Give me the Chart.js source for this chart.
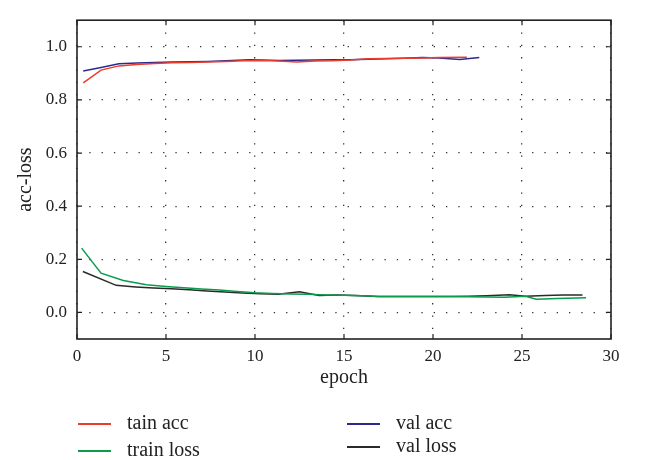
<!DOCTYPE html>
<html lang="en">
<head>
    <meta charset="UTF-8">
    <title>acc-loss</title>
    <script src="https://cdn.jsdelivr.net/npm/chart.js"></script>
    <style>
        body { margin: 0; background: #fff; }
        #wrap { position: relative; width: 648px; height: 460px; }
        .leg { position: absolute; font: 20px "Liberation Serif", serif; color: #222; white-space: nowrap; }
        .leg i { position: absolute; left: 0; top: 50%; width: 33px; height: 2px; margin-top: -1px; }
        .leg span { position: absolute; left: 49px; top: 50%; transform: translateY(-55%); }
    </style>
</head>
<body>
<div id="wrap">
    <canvas id="chart" width="648" height="460"></canvas>
</div>
<script>
    // values
    const trainAccEpoch = [0.35, 1.35, 2.35, 3.35, 4.35, 5.35, 6.35, 7.35, 8.35, 9.35, 10.35, 11.35, 12.35, 13.35, 14.35, 15.35, 16.35, 17.35, 18.35, 19.35, 20.35, 21.9];
    const trainAcc = [0.864, 0.912, 0.928, 0.933, 0.937, 0.940, 0.941, 0.943, 0.945, 0.947, 0.948, 0.946, 0.943, 0.946, 0.947, 0.950, 0.955, 0.956, 0.957, 0.958, 0.960, 0.961];

    const valAccEpoch = [0.35, 1.35, 2.35, 3.35, 4.35, 5.35, 6.35, 7.35, 8.35, 9.7, 10.35, 11.35, 12.35, 13.35, 14.35, 15.35, 16.35, 17.35, 18.35, 19.4, 20.35, 21.5, 22.6];
    const valAcc = [0.909, 0.922, 0.936, 0.939, 0.941, 0.943, 0.944, 0.945, 0.947, 0.951, 0.950, 0.948, 0.949, 0.950, 0.951, 0.951, 0.953, 0.955, 0.957, 0.960, 0.958, 0.952, 0.960];

    const trainLossEpoch = [0.26, 1.35, 2.6, 3.9, 5, 6, 7, 8, 9, 10, 11, 12, 13, 14, 15, 16, 17, 18, 19, 20, 21, 22, 23, 24, 25.2, 25.8, 27, 28.6];
    const trainLoss = [0.242, 0.148, 0.120, 0.104, 0.098, 0.093, 0.088, 0.084, 0.079, 0.074, 0.071, 0.069, 0.068, 0.066, 0.065, 0.063, 0.060, 0.060, 0.060, 0.060, 0.060, 0.059, 0.058, 0.057, 0.061, 0.050, 0.052, 0.055];

    const valLossEpoch = [0.33, 2.2, 3.3, 4.3, 5.3, 6.3, 7.3, 8.3, 9.3, 10.3, 11.3, 12.5, 13.6, 14.6, 15.6, 16.9, 18, 19, 20, 21, 22, 23, 24.3, 25.2, 26.3, 27.3, 28.4];
    const valLoss = [0.154, 0.102, 0.096, 0.092, 0.089, 0.085, 0.081, 0.077, 0.073, 0.070, 0.068, 0.078, 0.064, 0.066, 0.064, 0.060, 0.060, 0.060, 0.060, 0.060, 0.061, 0.063, 0.067, 0.061, 0.064, 0.066, 0.066];

    const xTicks = [0, 5, 10, 15, 20, 25, 30];
    const yTicks = [0.0, 0.2, 0.4, 0.6, 0.8, 1.0];

    const serif = '"Liberation Serif", "DejaVu Serif", serif';

    function pts(xs, ys) {
        return xs.map((x, i) => ({ x: x, y: ys[i] }));
    }

    const series = [
        { label: "tain acc", color: "#ee3b2b", data: pts(trainAccEpoch, trainAcc) },
        { label: "val acc", color: "#2d2a8f", data: pts(valAccEpoch, valAcc) },
        { label: "train loss", color: "#0a9b4c", data: pts(trainLossEpoch, trainLoss) },
        { label: "val loss", color: "#2a2a2a", data: pts(valLossEpoch, valLoss) }
    ];

    // frame + inward ticks
    const frame = {
        id: "frame",
        afterDraw(chart) {
            const { ctx, chartArea: a, scales } = chart;
            ctx.save();
            ctx.strokeStyle = "#222";
            ctx.lineWidth = 1.6;
            ctx.strokeRect(a.left, a.top, a.right - a.left, a.bottom - a.top);
            ctx.lineWidth = 1.2;
            ctx.beginPath();
            xTicks.forEach(v => {
                const px = scales.x.getPixelForValue(v);
                ctx.moveTo(px, a.bottom); ctx.lineTo(px, a.bottom - 5);
                ctx.moveTo(px, a.top); ctx.lineTo(px, a.top + 5);
            });
            yTicks.forEach(v => {
                const py = scales.y.getPixelForValue(v);
                ctx.moveTo(a.left, py); ctx.lineTo(a.left + 5, py);
                ctx.moveTo(a.right, py); ctx.lineTo(a.right - 5, py);
            });
            ctx.stroke();
            ctx.restore();
        }
    };

    new Chart(document.getElementById("chart"), {
        type: "line",
        data: {
            datasets: series.map(s => ({
                label: s.label,
                data: s.data,
                borderColor: s.color,
                borderWidth: 1.5,
                pointRadius: 0,
                fill: false,
                tension: 0
            }))
        },
        options: {
            responsive: false,
            animation: false,
            layout: { padding: { left: 0, top: 7, right: 37, bottom: 66 } },
            plugins: { legend: { display: false }, tooltip: { enabled: false } },
            scales: {
                x: {
                    type: "linear",
                    min: 0,
                    max: 30,
                    afterBuildTicks: s => { s.ticks = xTicks.map(v => ({ value: v })); },
                    afterFit: s => { s.height = 55; },
                    ticks: { color: "#222", padding: 7, font: { family: serif, size: 17 } },
                    grid: { color: "#333", lineWidth: 1.3, drawTicks: false },
                    border: { display: false, dash: [1.3, 11] },
                    title: { display: true, text: "epoch", color: "#222", padding: { top: 2 }, font: { family: serif, size: 20 } }
                },
                y: {
                    min: -0.1,
                    max: 1.1,
                    afterBuildTicks: s => { s.ticks = yTicks.map(v => ({ value: v })); },
                    afterFit: s => { s.width = 77; },
                    ticks: { color: "#222", padding: 10, font: { family: serif, size: 17 }, callback: v => v.toFixed(1) },
                    grid: { color: "#333", lineWidth: 1.3, drawTicks: false },
                    border: { display: false, dash: [1.3, 11] },
                    title: { display: true, text: "acc-loss", color: "#222", padding: { top: 14, bottom: 0 }, font: { family: serif, size: 20 } }
                }
            }
        },
        plugins: [frame]
    });

    // legend in two columns below the plot
    const legendPos = [
        { left: 78, top: 424 }, { left: 347, top: 424 },
        { left: 78, top: 451 }, { left: 347, top: 447 }
    ];
    const wrap = document.getElementById("wrap");
    series.forEach((s, i) => {
        const d = document.createElement("div");
        d.className = "leg";
        d.style.left = legendPos[i].left + "px";
        d.style.top = legendPos[i].top + "px";
        d.innerHTML = '<i style="background:' + s.color + '"></i><span>' + s.label + '</span>';
        wrap.appendChild(d);
    });
</script>
</body>
</html>
